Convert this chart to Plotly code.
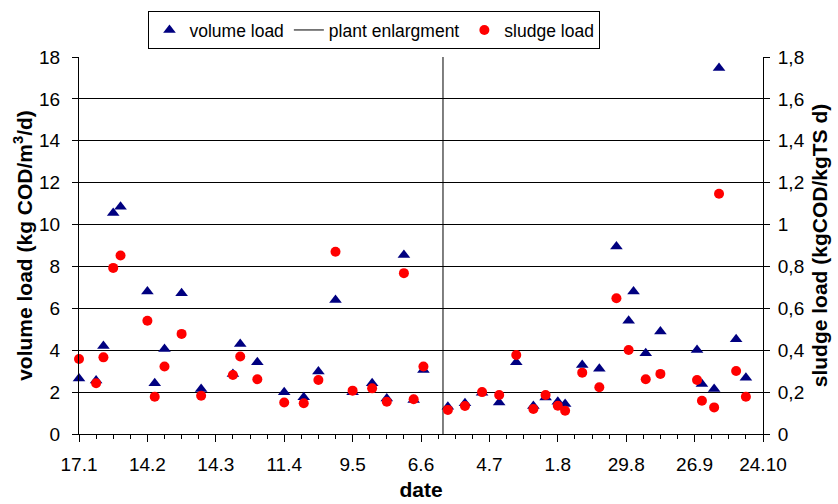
import plotly.graph_objects as go

# ---- data ----
dates = ["2003-01-17", "2003-01-24", "2003-01-27", "2003-01-31", "2003-02-03",
         "2003-02-14", "2003-02-17", "2003-02-21", "2003-02-28", "2003-03-08",
         "2003-03-21", "2003-03-24", "2003-03-31", "2003-04-11", "2003-04-19",
         "2003-04-25", "2003-05-02", "2003-05-09", "2003-05-17", "2003-05-23",
         "2003-05-30", "2003-06-03", "2003-06-07", "2003-06-17", "2003-06-24",
         "2003-07-01", "2003-07-08", "2003-07-15", "2003-07-22", "2003-07-27",
         "2003-08-01", "2003-08-04", "2003-08-11", "2003-08-18", "2003-08-25",
         "2003-08-30", "2003-09-01", "2003-09-06", "2003-09-12", "2003-09-27",
         "2003-09-29", "2003-10-04", "2003-10-06", "2003-10-13", "2003-10-17"]

volume_load = [2.65, 2.55, 4.2, 10.55, 10.85, 6.8, 2.42, 4.06, 6.72, 2.15,
               2.87, 4.3, 3.43, 1.99, 1.75, 2.98, 6.4, 1.99, 2.42, 1.7,
               8.55, 1.62, 3.05, 1.3, 1.47, 1.97, 1.5, 3.42, 1.34, 1.74,
               1.54, 1.43, 3.3, 3.12, 8.95, 5.41, 6.8, 3.85, 4.89, 4.01,
               2.39, 2.15, 17.47, 4.52, 2.69]

sludge_load = [0.358, 0.242, 0.366, 0.793, 0.852, 0.541, 0.178, 0.322, 0.478, 0.183,
               0.282, 0.370, 0.261, 0.150, 0.147, 0.258, 0.870, 0.207, 0.218, 0.154,
               0.768, 0.166, 0.322, 0.115, 0.134, 0.200, 0.186, 0.377, 0.119, 0.186,
               0.135, 0.111, 0.293, 0.223, 0.648, 0.401, None, 0.261, 0.287, 0.258,
               0.159, 0.127, 1.147, 0.301, 0.178]

enlargement_date = "2003-06-15"
enlargement_y = [0, 18]

x_range = ["2003-01-17", "2003-10-24"]
DAY_MS = 86400000

FONT = "Liberation Sans, Arial, sans-serif"

fig = go.Figure()

fig.add_trace(go.Scatter(
    x=dates, y=volume_load, mode="markers", name="volume load",
    marker=dict(symbol="triangle-up", size=11, color="#000080"),
    cliponaxis=False))

fig.add_trace(go.Scatter(
    x=[enlargement_date, enlargement_date], y=enlargement_y, mode="lines",
    name="plant enlargment", line=dict(color="black", width=1)))

fig.add_trace(go.Scatter(
    x=dates, y=sludge_load, mode="markers", name="sludge load",
    marker=dict(symbol="circle", size=10, color="#ff0000"),
    yaxis="y2", cliponaxis=False))

fig.update_layout(
    width=838, height=504,
    margin=dict(l=79, r=75, t=57, b=70, autoexpand=False),
    paper_bgcolor="white", plot_bgcolor="white",
    font=dict(family=FONT, size=19, color="black"),
    separators=", ",
    showlegend=True,
    legend=dict(orientation="h", x=0.432, xanchor="center",
                yref="container", y=0.978, yanchor="top",
                bordercolor="black", borderwidth=1, bgcolor="white",
                font=dict(size=17.5), itemwidth=30, tracegroupgap=0),
    xaxis=dict(
        type="date", range=x_range, tick0="2003-01-17", dtick=28 * DAY_MS,
        tickformat="%-d.%-m", showgrid=False, showline=True, linecolor="black",
        ticks="outside", ticklen=7, tickcolor="black", ticklabelstandoff=6,
        minor=dict(dtick=7 * DAY_MS, tick0="2003-01-17", ticks="outside",
                   ticklen=4, tickcolor="black", showgrid=False),
        title=dict(text="<b>date</b>", font=dict(size=21), standoff=8),
        zeroline=False, automargin=False),
    yaxis=dict(
        range=[0, 18], dtick=2, showgrid=True, gridcolor="black", gridwidth=1,
        showline=True, linecolor="black", ticks="outside", ticklen=6,
        tickcolor="black", ticklabelstandoff=8, zeroline=False,
        title=dict(text="<b>volume load (kg COD/m<sup>3</sup>/d)</b>",
                   font=dict(size=21), standoff=0),
        automargin=False),
    yaxis2=dict(
        range=[0, 1.8], dtick=0.2, overlaying="y", side="right", showgrid=False,
        showline=True, linecolor="black", ticks="outside", ticklen=6,
        tickcolor="black", ticklabelstandoff=4, zeroline=False,
        title=dict(text="<b>sludge load (kgCOD/kgTS d)</b>",
                   font=dict(size=21), standoff=8),
        automargin=False),
)

fig.write_html("out.html")
